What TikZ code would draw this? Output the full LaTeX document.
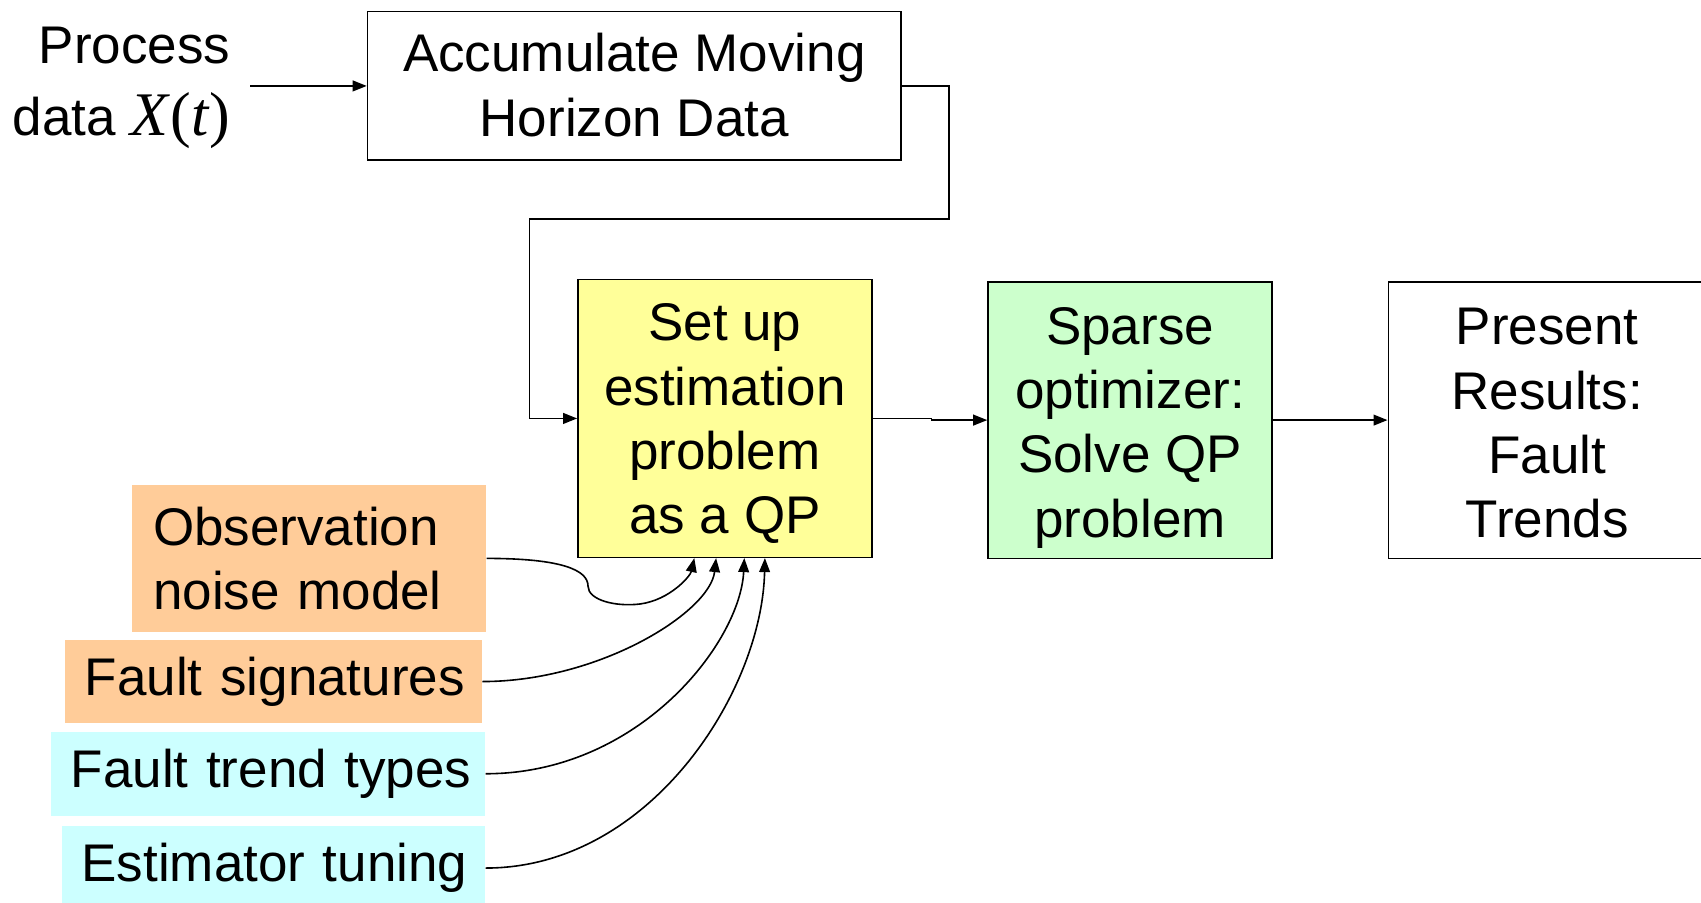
\documentclass[tikz,border=0pt]{standalone}
\usepackage{fontspec}
\setmainfont{Liberation Sans}
\newfontfamily\timesf{Liberation Serif}
\usetikzlibrary{arrows.meta}
\definecolor{cyel}{HTML}{FFFF99}
\definecolor{cgrn}{HTML}{CCFFCC}
\definecolor{corg}{HTML}{FFCC99}
\definecolor{ccyn}{HTML}{CCFFFF}
\begin{document}
\begin{tikzpicture}[x=0.5pt,y=-0.5pt,line width=0.8pt,
  txt/.style={font=\fontsize{26.5}{32.2}\selectfont},
  blk/.style={draw=black,rectangle,anchor=north west,inner sep=0pt},
  lbl/.style={txt,align=center,inner sep=0pt},
  tag/.style={txt,rectangle,anchor=north west,align=left,inner xsep=10.5pt,inner ysep=0pt},
  arr/.style={-{Triangle[length=7pt,width=5.4pt]}},
  ]
\useasboundingbox (0,0) rectangle (1701,903);

% top row
\node[txt,anchor=east,align=right,inner sep=0pt] (proc) at (231,88)
  {Process\\[4pt] data {\timesf\fontsize{31}{32}\selectfont\itshape X\/\upshape(\itshape t\/\upshape)}};
\node[blk,minimum width=266.85pt,minimum height=74.35pt] (acc) at (366.7,10.8) {};
\node[lbl] (acct) at ([yshift=0.4pt]acc.center) {Accumulate Moving\\Horizon Data};

% middle row
\node[blk,fill=cyel,minimum width=147pt,minimum height=138.85pt] (setup) at (577.1,278.8) {};
\node[lbl] (setupt) at ([yshift=-2.7pt]setup.center) {Set up\\estimation\\problem\\as a QP};
\node[blk,fill=cgrn,minimum width=142.1pt,minimum height=138.3pt] (sparse) at (987.2,281) {};
\node[lbl] (sparset) at ([yshift=-3.8pt]sparse.center) {Sparse\\optimizer:\\Solve QP\\problem};
\node[blk,minimum width=158.75pt,minimum height=138.3pt] (pres) at (1387.5,281) {};
\node[lbl] (prest) at ([yshift=-1.6pt]pres.center) {Present\\Results:\\Fault\\Trends};

% inputs
\node[tag,fill=corg,text width=155.8pt,minimum height=73.8pt] (obs) at (131.3,483.8)
  {Observation\\noise model};
\node[tag,fill=corg,text width=188.4pt,minimum height=41.75pt,inner xsep=10pt] (fs) at (64,639)
  {\mbox{Fault signatures}};
\node[tag,fill=ccyn,text width=197pt,minimum height=41.75pt,inner xsep=10pt] (ftt) at (49.9,731.2)
  {\mbox{Fault trend types}};
\node[tag,fill=ccyn,text width=191.7pt,minimum height=41.75pt,inner xsep=10pt] (et) at (60.7,825.5)
  {\mbox{Estimator tuning}};

% route coordinates
\coordinate (r1) at (949.2,219.1);
\coordinate (l1) at (529.4,219.1);

% connectors
\draw[arr,shorten <=9.5pt] (proc.east |- acc.west) -- (acc.west);
\draw[arr] (acc.east) -| (r1) -- (l1) |- (setup.west);
\draw[arr] (setup.east) -- ++(58.6,0) |- (sparse.west);
\draw[arr] (sparse.east) -- (pres.west);

\draw[arr] (obs.east) .. controls +(75,0) and +(0,-16) .. (588,586)
  .. controls +(0,14) and +(-25,3) .. (640,604)
  .. controls +(30,-4) and +(-4,18) .. ([xshift=58.6pt]setup.south west);
\draw[arr] (fs.east) .. controls +(117,0) and +(-6,54) .. ([xshift=69.5pt]setup.south west);
\draw[arr] (ftt.east) .. controls +(154,0) and +(-4,84) .. ([xshift=83.6pt]setup.south west);
\draw[arr] (et.east) .. controls +(164,0) and +(-3,134) .. ([xshift=93.9pt]setup.south west);
\end{tikzpicture}
\end{document}
